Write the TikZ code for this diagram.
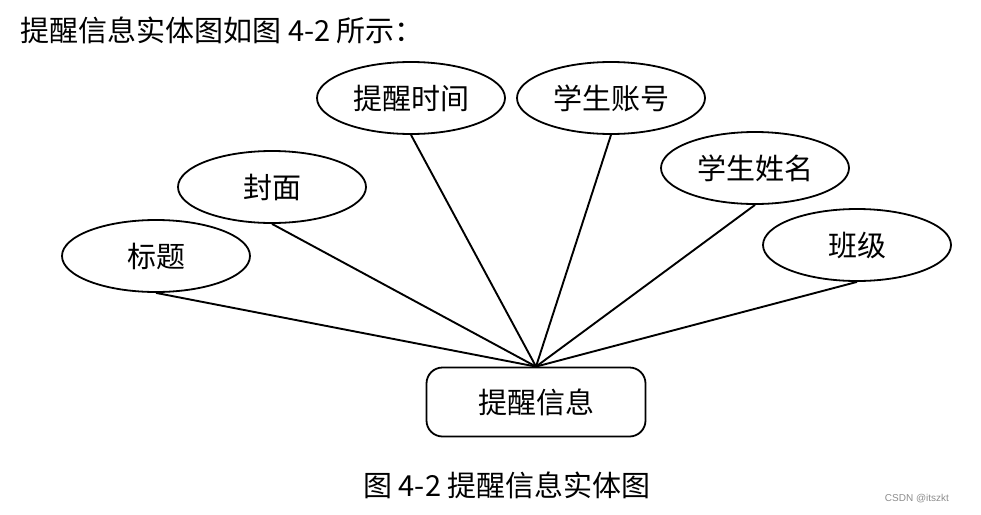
\documentclass[tikz,border=0pt]{standalone}
\usepackage{fontspec}
\newfontfamily\zh{Noto Sans CJK SC}
\newfontfamily\wm{Liberation Sans}
\usetikzlibrary{shapes.geometric,positioning}

\begin{document}
\begin{tikzpicture}[x=1pt, y=-1pt,
  every node/.style={font=\zh\fontsize{29}{33}\selectfont},
  attr/.style={ellipse, draw, line width=1.8pt, minimum width=188pt, minimum height=72pt, inner sep=0pt},
  entity/.style={rectangle, rounded corners=16pt, draw, line width=1.8pt, minimum width=219pt, minimum height=69pt},
  link/.style={line width=1.9pt}]
\useasboundingbox (0,0) rectangle (981,514);

% heading line and caption
\node[anchor=west] (head) at (17,30) {提醒信息实体图如图 4-2 所示：};
\node (cap) at (507,485) {图 4-2 提醒信息实体图};

% entity
\node[entity] (info) at (536,402) {提醒信息};

% attributes
\foreach \n/\x/\y/\t in {title/156/256/标题, cover/272/187/封面, rtime/411/98/提醒时间,
                         sno/611/98/学生账号, sname/755/168/学生姓名, cls/857/245/班级} {
  \node[attr] (\n) at (\x,\y) {\t};
  \draw[link] (\n.south) -- (info.north);
}

\node[text=black!45, font=\wm\fontsize{10}{12}\selectfont] (mark) at (917,499) {CSDN @itszkt};
\end{tikzpicture}
\end{document}
